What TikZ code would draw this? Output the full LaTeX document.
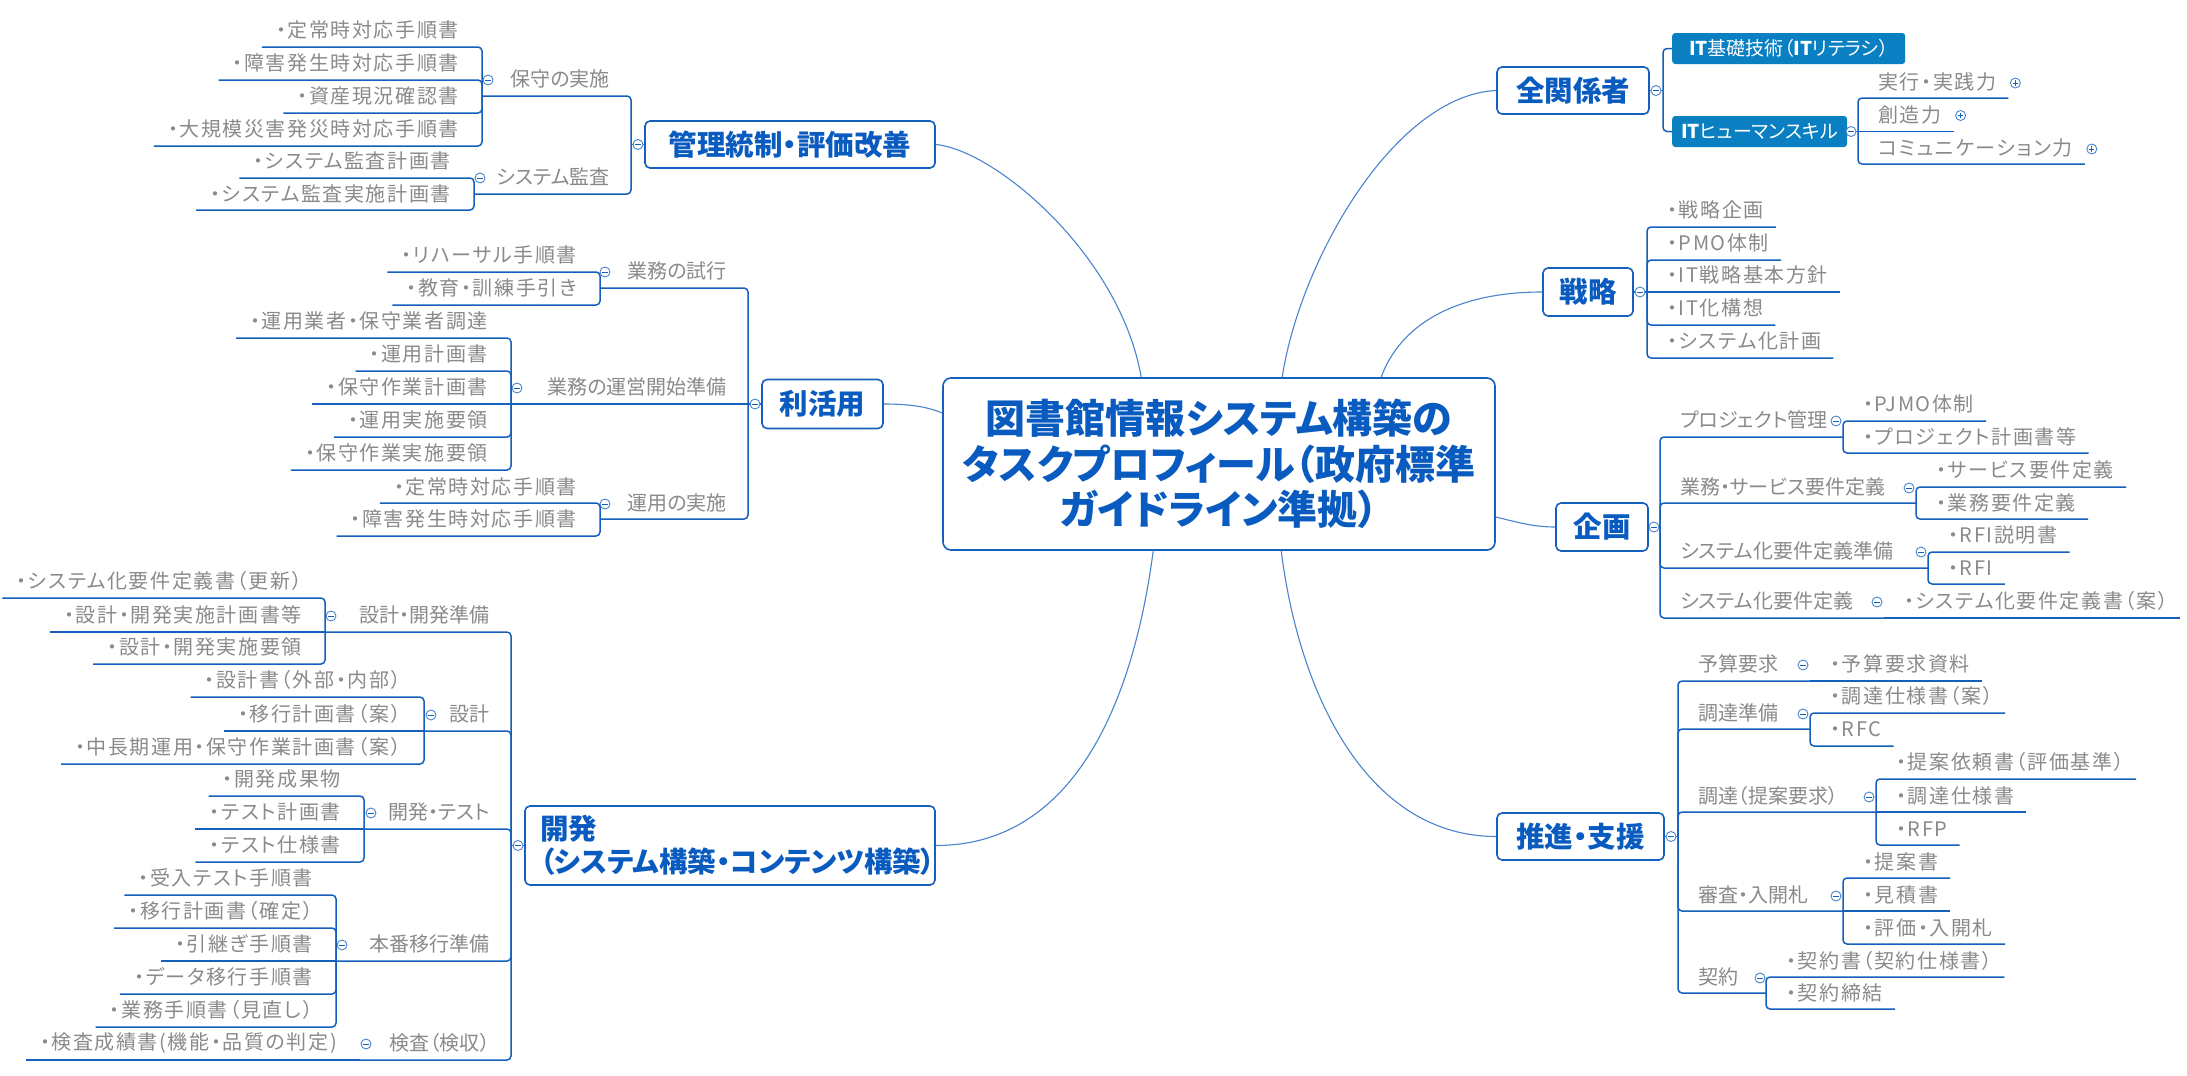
\documentclass[tikz,border=0pt]{standalone}
\usepackage{fontspec}
\setmainfont{Noto Sans CJK JP}[RawFeature=+palt]
\newfontfamily\leaffont{Noto Sans CJK JP}[RawFeature=+palt, LetterSpace=8]
\definecolor{bl}{HTML}{1560BD}
\definecolor{tb}{HTML}{0A5BBF}
\definecolor{lc}{HTML}{4A84CE}
\definecolor{gt}{HTML}{8A8A8A}
\definecolor{fb}{HTML}{0A80C2}
\tikzset{
  leaf/.style={text=gt, font=\leaffont\fontsize{20}{24}\selectfont, inner sep=0pt},
  subt/.style={text=gt, font=\fontsize{20}{24}\selectfont, inner sep=0pt},
  branch/.style={draw=bl, line width=1.5pt},
  curveln/.style={draw=lc, line width=1.1pt},
  mainbox/.style={draw=bl, line width=1.6pt, rounded corners=5pt, fill=white, text=tb,
    font=\fontsize{28.5}{33}\selectfont\bfseries, inner sep=0pt},
  fillbox/.style={fill=fb, rounded corners=3pt, text=white, font=\fontsize{19}{22}\selectfont,
    inner xsep=9pt, inner ysep=0pt, minimum height=31pt},
  togglecirc/.style={circle, draw=lc, fill=white, line width=0.9pt, minimum size=10pt, inner sep=0pt}
}
\newcommand\conn[4]{%
  \ifdim #2pt=#3pt\relax
    \draw[branch] (#1,#3) -- #4;%
  \else
    \draw[branch, rounded corners=4pt] (#1,#2) -- (#1,#3) -- #4;%
  \fi}
\newcommand\minusmark[2]{%
  \node[togglecirc] (#1) at #2 {};
  \draw[draw=bl, line width=0.8pt] ([xshift=-2.6pt]#1.center) -- ([xshift=2.6pt]#1.center);}
\newcommand\plusmark[2]{%
  \node[togglecirc] (#1) at #2 {};
  \draw[draw=bl, line width=0.8pt] ([xshift=-2.6pt]#1.center) -- ([xshift=2.6pt]#1.center);
  \draw[draw=bl, line width=0.8pt] ([yshift=-2.6pt]#1.center) -- ([yshift=2.6pt]#1.center);}
% right leaf: name, spineX, parentY, textY, underY, text
\newcommand\RLeaf[6]{%
  \node[leaf, anchor=west] (#1) at (#2+20,#4) {#6};
  \path (#1.east) ++(12,0) coordinate (#1e);
  \conn{#2}{#3}{#5}{(#1e |- 0,#5)}}
\newcommand\LLeaf[6]{%
  \node[leaf, anchor=east] (#1) at (#2-23,#4) {#6};
  \path (#1.west) ++(-14,0) coordinate (#1e);
  \conn{#2}{#3}{#5}{(#1e |- 0,#5)}}
% sub topic: name, spineX, parentY, textY, underY, circleX, childSpineX, text
\newcommand\RSub[8]{%
  \node[subt, anchor=west] (#1) at (#2+20,#4) {#8};
  \conn{#2}{#3}{#5}{(#7,#5)}
  \minusmark{#1m}{(#6,#4+1)}}
\newcommand\LSub[8]{%
  \node[subt, anchor=east] (#1) at (#2-21,#4) {#8};
  \conn{#2}{#3}{#5}{(#7,#5)}
  \minusmark{#1m}{(#6,#4+1)}}
\begin{document}
\begin{tikzpicture}[x=1pt,y=-1pt]
\fill[white] (0,0) rectangle (2187,1076);
\useasboundingbox (0,0) rectangle (2187,1076);

% main boxes
\node[mainbox, rounded corners=8pt, minimum width=552pt, minimum height=172pt, align=center,
  font=\fontsize{40}{45.5}\selectfont\bfseries] (c) at (1219,464)
  {図書館情報システム構築の\\タスクプロフィール（政府標準\\ガイドライン準拠）};
\node[mainbox, minimum width=290pt, minimum height=47pt] (kanri) at (790,144.5) {管理統制・評価改善};
\node[mainbox, minimum width=121pt, minimum height=49pt] (rik) at (822.5,404) {利活用};
\node[mainbox, minimum width=410pt, minimum height=79pt, align=left, text width=380pt] (kai) at (730,845.5)
  {開発\\（システム構築・コンテンツ構築）};
\node[mainbox, minimum width=152pt, minimum height=47pt] (zen) at (1573,90.5) {全関係者};
\node[mainbox, minimum width=90pt, minimum height=48pt] (sen) at (1588,292) {戦略};
\node[mainbox, minimum width=92pt, minimum height=48pt] (kik) at (1602,527) {企画};
\node[mainbox, minimum width=167pt, minimum height=47pt] (sui) at (1580.5,836.5) {推進・支援};

% curves from centre
\draw[curveln] (kanri.east) .. controls (995,150) and (1120,255) .. ([xshift=199pt]c.north west);
\draw[curveln] ([xshift=340pt]c.north west) .. controls (1300,260) and (1395,95) .. (zen.west);
\draw[curveln] ([xshift=439pt]c.north west) .. controls (1400,325) and (1455,292) .. (sen.west);
\draw[curveln] (rik.east) .. controls (915,404) and (930,408) .. ([yshift=51pt]c.west);
\draw[curveln] ([yshift=-53pt]c.east) .. controls (1520,523) and (1535,527) .. (kik.west);
\draw[curveln] ([xshift=211pt]c.south west) .. controls (1135,690) and (1080,845.5) .. (kai.east);
\draw[curveln] ([xshift=339pt]c.south west) .. controls (1300,700) and (1370,836.5) .. (sui.west);

% ---------- 全関係者
\draw[branch] (zen.east) -- (1663,90.5);
\minusmark{zenm}{(1656,90.5)}
\node[fillbox, anchor=west, minimum width=233pt] (z1) at (1672,48.5) {\textbf{IT}基礎技術（\textbf{IT}リテラシ）};
\node[fillbox, anchor=west, minimum width=172pt] (z2) at (1672,131.5) {\textbf{IT}ヒューマンスキル};
\conn{1663}{90.5}{48.5}{(z1.west)}
\conn{1663}{90.5}{131.5}{(z2.west)}
\draw[branch] (z2.east) -- (1858,131.5);
\minusmark{z2m}{(1851,131.5)}
\RLeaf{h1}{1858}{131.5}{82}{98}{実行・実践力}
\RLeaf{h2}{1858}{131.5}{114.5}{131.5}{創造力}
\RLeaf{h3}{1858}{131.5}{148}{164}{コミュニケーション力}
\plusmark{h1p}{([xshift=19pt,yshift=-1pt]h1.east)}
\plusmark{h2p}{([xshift=19pt,yshift=-1pt]h2.east)}
\plusmark{h3p}{([xshift=19pt,yshift=-1pt]h3.east)}

% ---------- 戦略
\draw[branch] (sen.east) -- (1647,292);
\minusmark{senm}{(1640,292)}
\RLeaf{s1}{1647}{292}{210}{227}{・戦略企画}
\RLeaf{s2}{1647}{292}{243}{260}{・PMO体制}
\RLeaf{s3}{1647}{292}{275}{292}{・IT戦略基本方針}
\RLeaf{s4}{1647}{292}{308}{325}{・IT化構想}
\RLeaf{s5}{1647}{292}{341}{358}{・システム化計画}

% ---------- 企画
\draw[branch] (kik.east) -- (1660,527);
\minusmark{kikm}{(1654,527)}
\RSub{p1}{1660}{527}{420}{437}{1836}{1843}{プロジェクト管理}
\RLeaf{p1a}{1843}{437}{404}{421}{・PJMO体制}
\RLeaf{p1b}{1843}{437}{437}{453}{・プロジェクト計画書等}
\RSub{p2}{1660}{527}{487}{503}{1909}{1916}{業務・サービス要件定義}
\RLeaf{p2a}{1916}{503}{470}{487}{・サービス要件定義}
\RLeaf{p2b}{1916}{503}{503}{519}{・業務要件定義}
\RSub{p3}{1660}{527}{551}{568}{1921}{1928}{システム化要件定義準備}
\RLeaf{p3a}{1928}{568}{535}{552}{・RFI説明書}
\RLeaf{p3b}{1928}{568}{568}{584}{・RFI}
\RSub{p4}{1660}{527}{601}{618}{1877}{1884}{システム化要件定義}
\RLeaf{p4a}{1884}{618}{601}{618}{・システム化要件定義書（案）}

% ---------- 推進・支援
\draw[branch] (sui.east) -- (1678,836.5);
\minusmark{suim}{(1671,836.5)}
\RSub{q1}{1678}{836.5}{664}{681}{1803}{1810}{予算要求}
\RLeaf{q1a}{1810}{681}{664}{681}{・予算要求資料}
\RSub{q2}{1678}{836.5}{713}{729}{1803}{1810}{調達準備}
\RLeaf{q2a}{1810}{729}{696}{713}{・調達仕様書（案）}
\RLeaf{q2b}{1810}{729}{729}{746}{・RFC}
\RSub{q3}{1678}{836.5}{796}{812}{1869}{1876}{調達（提案要求）}
\RLeaf{q3a}{1876}{812}{762}{779}{・提案依頼書（評価基準）}
\RLeaf{q3b}{1876}{812}{796}{812}{・調達仕様書}
\RLeaf{q3c}{1876}{812}{829}{845}{・RFP}
\RSub{q4}{1678}{836.5}{895}{911}{1836}{1843}{審査・入開札}
\RLeaf{q4a}{1843}{911}{862}{878}{・提案書}
\RLeaf{q4b}{1843}{911}{895}{911}{・見積書}
\RLeaf{q4c}{1843}{911}{928}{944}{・評価・入開札}
\RSub{q5}{1678}{836.5}{977}{993}{1760}{1766}{契約}
\RLeaf{q5a}{1766}{993}{961}{977}{・契約書（契約仕様書）}
\RLeaf{q5b}{1766}{993}{993}{1009}{・契約締結}

% ---------- 管理統制・評価改善
\draw[branch] (kanri.west) -- (631,144.5);
\minusmark{kanm}{(638,144.5)}
\LSub{k1}{631}{144.5}{79}{96}{488}{482}{保守の実施}
\LLeaf{k1a}{482}{96}{30}{47}{・定常時対応手順書}
\LLeaf{k1b}{482}{96}{63}{80}{・障害発生時対応手順書}
\LLeaf{k1c}{482}{96}{96}{113}{・資産現況確認書}
\LLeaf{k1d}{482}{96}{129}{146}{・大規模災害発災時対応手順書}
\LSub{k2}{631}{144.5}{177}{194}{480}{474}{システム監査}
\LLeaf{k2a}{474}{194}{161}{178}{・システム監査計画書}
\LLeaf{k2b}{474}{194}{194}{210}{・システム監査実施計画書}

% ---------- 利活用
\draw[branch] (rik.west) -- (748,404);
\minusmark{rikm}{(755,404)}
\LSub{r1}{748}{404}{271}{288}{605}{600}{業務の試行}
\LLeaf{r1a}{600}{288}{255}{272}{・リハーサル手順書}
\LLeaf{r1b}{600}{288}{288}{305}{・教育・訓練手引き}
\LSub{r2}{748}{404}{387}{404}{517}{511}{業務の運営開始準備}
\LLeaf{r2a}{511}{404}{321}{338}{・運用業者・保守業者調達}
\LLeaf{r2b}{511}{404}{354}{371}{・運用計画書}
\LLeaf{r2c}{511}{404}{387}{404}{・保守作業計画書}
\LLeaf{r2d}{511}{404}{420}{437}{・運用実施要領}
\LLeaf{r2e}{511}{404}{453}{470}{・保守作業実施要領}
\LSub{r3}{748}{404}{503}{519}{605}{600}{運用の実施}
\LLeaf{r3a}{600}{519}{487}{503}{・定常時対応手順書}
\LLeaf{r3b}{600}{519}{519}{536}{・障害発生時対応手順書}

% ---------- 開発
\draw[branch] (kai.west) -- (511,845.5);
\minusmark{kaim}{(518,845.5)}
\LSub{d1}{511}{845.5}{615}{632}{331}{325}{設計・開発準備}
\LLeaf{d1a}{325}{632}{581}{598}{・システム化要件定義書（更新）}
\LLeaf{d1b}{325}{632}{615}{632}{・設計・開発実施計画書等}
\LLeaf{d1c}{325}{632}{647}{664}{・設計・開発実施要領}
\LSub{d2}{511}{845.5}{714}{731}{431}{424}{設計}
\LLeaf{d2a}{424}{731}{680}{697}{・設計書（外部・内部）}
\LLeaf{d2b}{424}{731}{714}{731}{・移行計画書（案）}
\LLeaf{d2c}{424}{731}{747}{764}{・中長期運用・保守作業計画書（案）}
\LSub{d3}{511}{845.5}{812}{829}{371}{364}{開発・テスト}
\LLeaf{d3a}{364}{829}{779}{796}{・開発成果物}
\LLeaf{d3b}{364}{829}{812}{829}{・テスト計画書}
\LLeaf{d3c}{364}{829}{845}{862}{・テスト仕様書}
\LSub{d4}{511}{845.5}{944}{961}{342}{336}{本番移行準備}
\LLeaf{d4a}{336}{961}{878}{895}{・受入テスト手順書}
\LLeaf{d4b}{336}{961}{911}{928}{・移行計画書（確定）}
\LLeaf{d4c}{336}{961}{944}{961}{・引継ぎ手順書}
\LLeaf{d4d}{336}{961}{977}{994}{・データ移行手順書}
\LLeaf{d4e}{336}{961}{1010}{1027}{・業務手順書（見直し）}
\LSub{d5}{511}{845.5}{1043}{1060}{366}{360}{検査（検収）}
\LLeaf{d5a}{360}{1060}{1043}{1060}{・検査成績書(機能・品質の判定)}
\end{tikzpicture}
\end{document}
